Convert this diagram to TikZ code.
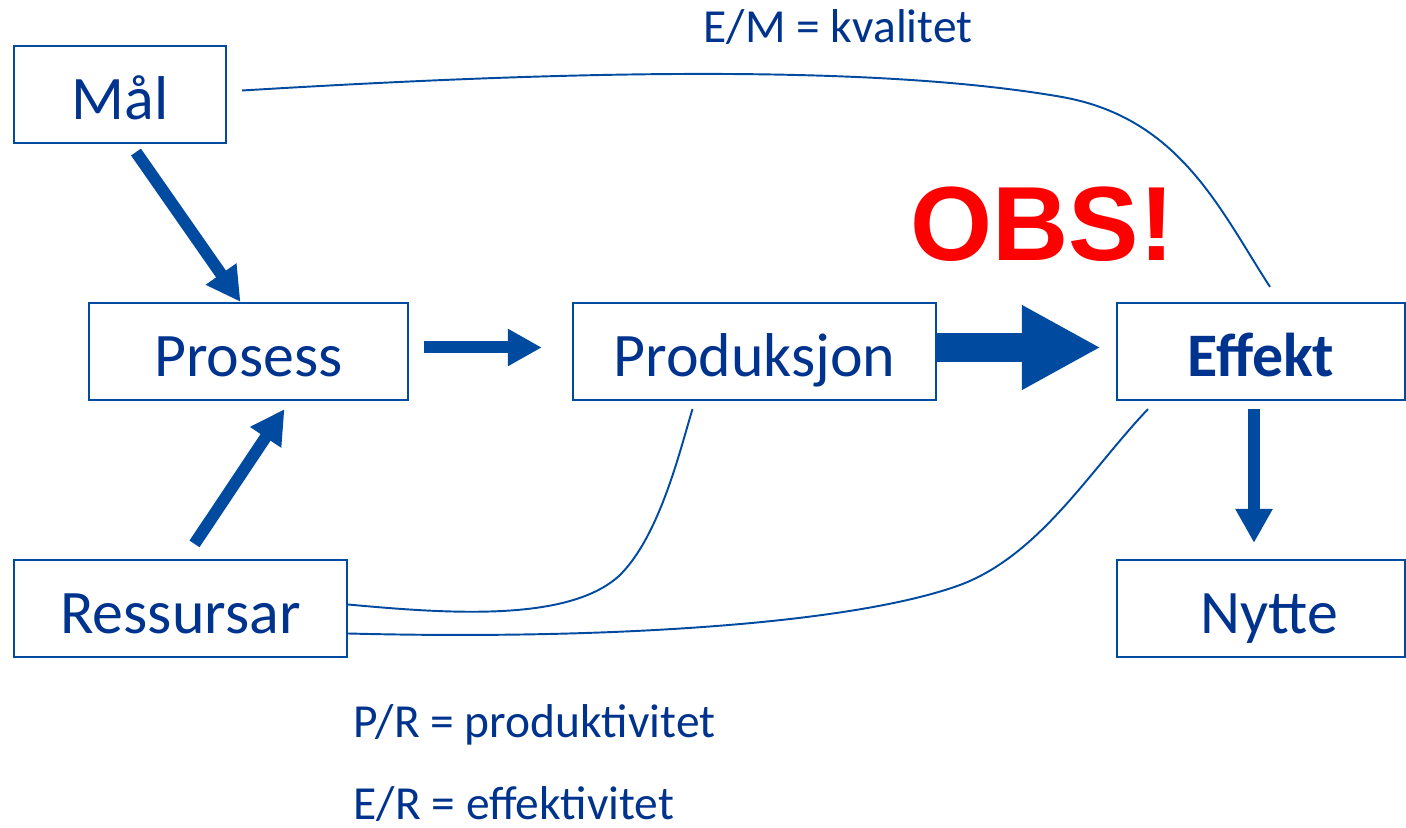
\documentclass[tikz,border=0pt]{standalone}
\usepackage{fontspec}
\setmainfont{Carlito}
\newfontfamily\obsfont{Liberation Sans}
\usetikzlibrary{arrows.meta,calc}
\definecolor{boxblue}{RGB}{0,74,160}
\definecolor{textblue}{RGB}{0,51,141}
\tikzset{
  box/.style={draw=boxblue, line width=0.6pt, minimum height=0.97cm, inner sep=0pt,
    text height=0.62cm, text depth=0.13cm, text=textblue, font=\fontsize{17.6}{20}\selectfont},
  fat/.style={draw=boxblue, line width=0.12cm, -{Triangle[length=0.34cm,width=0.35cm]}},
  link/.style={draw=boxblue, line width=0.55pt},
  note/.style={text=textblue, font=\fontsize{13.5}{16}\selectfont, inner sep=0pt, anchor=base west}
}
\begin{document}
\begin{tikzpicture}[x=0.01cm,y=-0.01cm]
\useasboundingbox (0,0) rectangle (1406,828);
\node[box, minimum width=2.12cm] (mal) at (120,94.5) {Mål};
\node[box, minimum width=3.18cm] (prosess) at (248.5,351.5) {Prosess};
\node[box, minimum width=3.63cm] (produksjon) at (754.5,351.5) {Produksjon};
\node[box, minimum width=2.88cm, font=\fontsize{17.6}{20}\selectfont\bfseries] (effekt) at (1261,351.5) {Effekt};
\node[box, minimum width=3.33cm] (ressursar) at (180.5,608.5) {Ressursar};
\node[box, minimum width=2.88cm] (nytte) at (1261,608.5) {\hspace{0.16cm}Nytte};
% thick arrows
\draw[fat] ($(mal.south)+(16,8)$) -- ($(prosess.north)+(-8,0)$);
\draw[fat] ($(ressursar.north)+(14,-15)$) -- ($(prosess.south)+(36,8)$);
\draw[fat] ($(prosess.east)+(15,-4)$) -- ($(produksjon.west)+(-30,-4)$);
\draw[fat, line width=0.28cm, -{Triangle[length=0.79cm,width=0.79cm]}] ($(produksjon.east)+(0,-4)$) -- ($(effekt.west)+(-15,-4)$);
\draw[fat] ($(effekt.south)+(-7,8)$) -- ($(nytte.north)+(-7,-16)$);
% thin curves
\draw[link] ($(mal.east)+(15,-4)$) .. controls (500,75) and (850,60) .. (1062,97)
  .. controls (1180,118) and (1220,210) .. ($(effekt.north)+(9,-15)$);
\draw[link] ($(ressursar.east)+(0,-4)$) .. controls (450,614) and (570,622) .. (620,575)
  .. controls (660,535) and (680,450) .. ($(produksjon.south)+(-62,8)$);
\draw[link] ($(ressursar.east)+(0,25)$) .. controls (600,640) and (850,625) .. (960,585)
  .. controls (1040,555) and (1090,470) .. ($(effekt.south)+(-113,8)$);
% labels
\node[note] (kvalitet) at (703,43) {E/M = kvalitet};
\node[note] (produktivitet) at (353,738) {P/R = produktivitet};
\node[note] (effektivitet) at (353,820) {E/R = effektivitet};
\node[text=red, font=\obsfont\bfseries\fontsize{30}{34}\selectfont, anchor=base west, inner sep=0pt] (obs) at (910,261) {OBS!};
\end{tikzpicture}
\end{document}
